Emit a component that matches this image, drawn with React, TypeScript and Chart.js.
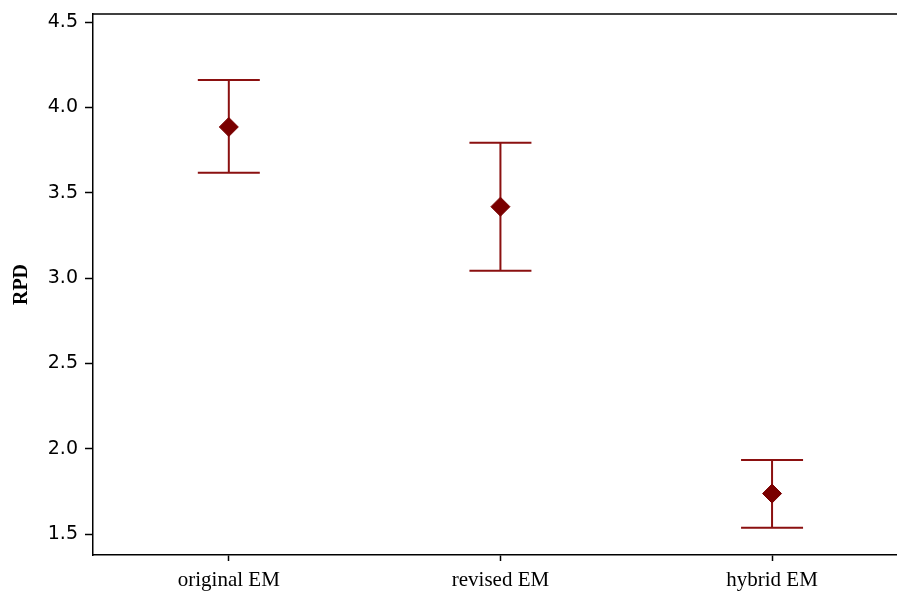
import React, { useEffect, useRef } from "react";
import { Chart, registerables } from "chart.js";

Chart.register(...registerables);

const categories = ["original EM", "revised EM", "hybrid EM"];
const means = [3.885, 3.418, 1.737];
const lowers = [3.617, 3.043, 1.537];
const uppers = [4.16, 3.793, 1.934];
const yTicks = [1.5, 2.0, 2.5, 3.0, 3.5, 4.0, 4.5];

const RED = "#8b1010";
const MARK = "#7a0000";

const errorBarPlugin = {
  id: "errorBars",
  beforeDatasetsDraw(chart: any) {
    const { ctx, scales } = chart;
    const xs = scales.x;
    const ys = scales.y;
    ctx.save();
    ctx.strokeStyle = RED;
    ctx.lineWidth = 2;
    const half = 31;
    categories.forEach((_, i) => {
      const x = xs.getPixelForValue(i);
      const yl = ys.getPixelForValue(lowers[i]);
      const yu = ys.getPixelForValue(uppers[i]);
      ctx.beginPath();
      ctx.moveTo(x, yl);
      ctx.lineTo(x, yu);
      ctx.moveTo(x - half, yl);
      ctx.lineTo(x + half, yl);
      ctx.moveTo(x - half, yu);
      ctx.lineTo(x + half, yu);
      ctx.stroke();
    });
    ctx.restore();
  },
  afterDraw(chart: any) {
    const { ctx, chartArea } = chart;
    ctx.save();
    ctx.strokeStyle = "#000";
    ctx.lineWidth = 1.5;
    ctx.beginPath();
    ctx.moveTo(chartArea.left, chartArea.top);
    ctx.lineTo(chartArea.right, chartArea.top);
    ctx.stroke();
    ctx.restore();
  },
};

const zeroPad = (s: any) => {
  s.paddingTop = 0;
  s.paddingBottom = 0;
  s.paddingLeft = 0;
  s.paddingRight = 0;
};

export default function App() {
  const ref = useRef<HTMLCanvasElement | null>(null);
  useEffect(() => {
    document.body.style.margin = "0";
    document.body.style.overflow = "hidden";
    const chart = new Chart(ref.current as HTMLCanvasElement, {
      type: "scatter",
      data: {
        datasets: [
          {
            data: means.map((m, i) => ({ x: i, y: m })),
            pointStyle: "rectRot",
            pointRadius: 9.5,
            backgroundColor: MARK,
            borderColor: MARK,
            borderWidth: 1,
          },
        ],
      },
      options: {
        animation: false,
        responsive: false,
        devicePixelRatio: 1,
        layout: { autoPadding: false, padding: { left: 0, top: 14, right: 0, bottom: 0 } },
        plugins: { legend: { display: false }, tooltip: { enabled: false } },
        scales: {
          x: {
            type: "linear",
            min: -0.5,
            max: 2.46,
            afterBuildTicks: (s: any) => {
              s.ticks = categories.map((_, i) => ({ value: i }));
            },
            afterFit: (s: any) => {
              s.height = 37;
              zeroPad(s);
            },
            grid: {
              drawOnChartArea: false,
              drawTicks: true,
              tickLength: 6,
              tickWidth: 1.5,
              tickColor: "#000",
            },
            border: { display: true, color: "#000", width: 1.5 },
            ticks: {
              color: "#000",
              padding: 7,
              maxRotation: 0,
              autoSkip: false,
              font: { family: "'Liberation Serif', 'Times New Roman', serif", size: 21 },
              callback: (v: any) => categories[Math.round(Number(v))] ?? "",
            },
          },
          y: {
            min: 1.377,
            max: 4.547,
            afterBuildTicks: (s: any) => {
              s.ticks = yTicks.map((v) => ({ value: v }));
            },
            afterFit: (s: any) => {
              s.width = 93;
              zeroPad(s);
            },
            grid: {
              drawOnChartArea: false,
              drawTicks: true,
              tickLength: 8,
              tickWidth: 1.5,
              tickColor: "#000",
            },
            border: { display: true, color: "#000", width: 1.5 },
            ticks: {
              color: "#000",
              padding: 7,
              font: { family: "'DejaVu Sans', Verdana, sans-serif", size: 19 },
              callback: (v: any) => Number(v).toFixed(1),
            },
            title: {
              display: true,
              text: "RPD",
              color: "#000",
              padding: { top: 10, bottom: 0 },
              font: { family: "'Liberation Serif', 'Times New Roman', serif", size: 20, weight: "bold" },
            },
          },
        },
      },
      plugins: [errorBarPlugin],
    });
    return () => chart.destroy();
  }, []);
  return (
    <div style={{ width: 897, height: 592, overflow: "hidden" }}>
      <canvas ref={ref} width={897} height={592} style={{ display: "block" }} />
    </div>
  );
}
